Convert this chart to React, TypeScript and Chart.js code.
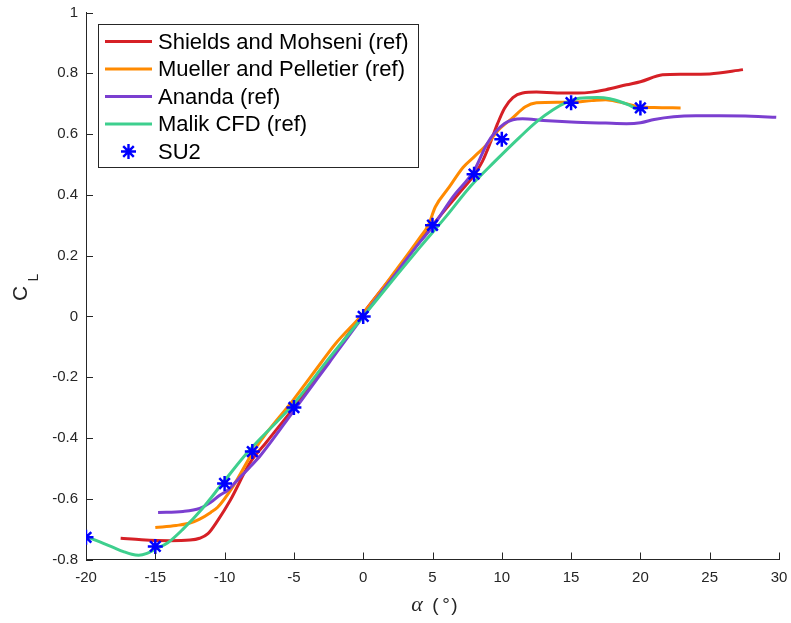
import React, { useEffect, useRef } from "react";
import { Chart, registerables } from "chart.js";

Chart.register(...registerables);

// ---- tick labels ----
const xTickValues = [-20, -15, -10, -5, 0, 5, 10, 15, 20, 25, 30];
const yTickValues = [-0.8, -0.6, -0.4, -0.2, 0, 0.2, 0.4, 0.6, 0.8, 1];

// ---- series names / colours ----
const seriesNames = [
  "Shields and Mohseni (ref)",
  "Mueller and Pelletier (ref)",
  "Ananda (ref)",
  "Malik CFD (ref)",
  "SU2",
];
const seriesColors = ["#d62026", "#ff8a00", "#7b3fd0", "#3ecf8e", "#0000ff"];

// ---- Shields and Mohseni ----
const shieldsAlpha = [-17.5, -16, -14, -12.5, -11.8, -11.2, -10.5, -9.6, -8.2, -7, -5, -2.5, 0, 2.5, 5, 7, 8, 8.6, 9.2, 9.7, 10.2, 10.8, 11.5, 12.5, 14, 15.5, 16.5, 17.5, 19, 20, 21.6, 23, 25, 27.4];
const shieldsCL = [-0.73, -0.735, -0.738, -0.736, -0.73, -0.715, -0.672, -0.606, -0.484, -0.415, -0.3, -0.15, 0.01, 0.155, 0.3, 0.41, 0.465, 0.51, 0.575, 0.635, 0.685, 0.72, 0.735, 0.738, 0.735, 0.735, 0.738, 0.746, 0.762, 0.772, 0.795, 0.797, 0.798, 0.812];

// ---- Mueller and Pelletier ----
const muellerAlpha = [-15, -13.5, -12.5, -11.8, -11, -10.5, -9.4, -8, -7, -5, -3, -2, 0, 2.5, 4.1, 4.7, 5.2, 6.2, 7.2, 8, 8.9, 9.8, 10.8, 11.7, 12.5, 14, 15, 16.5, 17.5, 18.5, 20, 21, 22.9];
const muellerCL = [-0.695, -0.688, -0.68, -0.667, -0.645, -0.628, -0.56, -0.45, -0.385, -0.272, -0.15, -0.09, 0.01, 0.16, 0.26, 0.3, 0.36, 0.425, 0.49, 0.525, 0.565, 0.615, 0.654, 0.69, 0.703, 0.705, 0.705, 0.71, 0.713, 0.705, 0.69, 0.687, 0.686];

// ---- Ananda ----
const anandaAlpha = [-14.8, -13, -11.8, -11, -10.4, -9.8, -9, -8.2, -7.4, -5, -2.5, 0, 2.5, 4.1, 5, 6.5, 8, 8.9, 9.5, 10.2, 10.8, 11.5, 13, 15, 17.5, 19, 20, 21, 22.4, 24, 25.7, 28, 29.8];
const anandaCL = [-0.645, -0.642, -0.632, -0.612, -0.59, -0.573, -0.535, -0.497, -0.457, -0.31, -0.155, 0.0, 0.15, 0.245, 0.295, 0.395, 0.48, 0.565, 0.605, 0.635, 0.647, 0.65, 0.645, 0.64, 0.636, 0.634, 0.637, 0.648, 0.657, 0.66, 0.66, 0.659, 0.655];

// ---- Malik CFD ----
const malikAlpha = [-20, -19, -18, -17.3, -16.7, -16.2, -15.6, -15, -14.1, -13, -11.6, -10.1, -8.2, -5, -2.5, 0, 2.5, 4.1, 6, 7.7, 9.5, 11.3, 12.5, 13.7, 14.7, 15.6, 16.9, 17.8, 18.5, 19.2, 19.8];
const malikCL = [-0.725, -0.742, -0.761, -0.774, -0.783, -0.786, -0.78, -0.766, -0.745, -0.7, -0.632, -0.546, -0.44, -0.287, -0.14, 0.0, 0.14, 0.228, 0.33, 0.426, 0.51, 0.59, 0.64, 0.68, 0.705, 0.718, 0.72, 0.716, 0.707, 0.695, 0.68];

// ---- SU2 ----
const su2Alpha = [-20, -15, -10, -8, -5, 0, 5, 8, 10, 15, 20];
const su2CL = [-0.727, -0.757, -0.55, -0.445, -0.3, 0, 0.3, 0.468, 0.583, 0.703, 0.686];

const toPoints = (xs: number[], ys: number[]) => xs.map((x, i) => ({ x, y: ys[i] }));

const FONT = "'Liberation Sans', Arial, Helvetica, sans-serif";
const AXIS_COLOR = "#262626";

const decorPlugin = {
  id: "decor",
  afterDraw(chart: any) {
    const { ctx, chartArea, scales } = chart;
    const xs = scales.x;
    const ys = scales.y;
    ctx.save();

    // inward tick marks
    ctx.strokeStyle = AXIS_COLOR;
    ctx.lineWidth = 1;
    ctx.beginPath();
    for (const v of xTickValues) {
      const px = Math.round(xs.getPixelForValue(v)) + 0.5;
      ctx.moveTo(px, chartArea.bottom);
      ctx.lineTo(px, chartArea.bottom - 7);
    }
    for (const v of yTickValues) {
      const py = Math.round(ys.getPixelForValue(v)) + 0.5;
      ctx.moveTo(chartArea.left, py);
      ctx.lineTo(chartArea.left + 7, py);
    }
    ctx.stroke();

    // legend box
    const bx = 98.5, by = 24.5, bw = 320, bh = 143;
    ctx.fillStyle = "#ffffff";
    ctx.fillRect(bx, by, bw, bh);
    ctx.strokeStyle = AXIS_COLOR;
    ctx.lineWidth = 1;
    ctx.strokeRect(bx, by, bw, bh);

    const rowY0 = 41.5;
    const rowStep = 27.5;
    chart.data.datasets.forEach((ds: any, i: number) => {
      const y = rowY0 + i * rowStep;
      if (ds.showLine === false) {
        const cx = 128.5, r = 7.5;
        const d = Math.cos(Math.PI / 4) * r;
        ctx.strokeStyle = ds.pointBorderColor;
        ctx.lineWidth = 2.4;
        ctx.beginPath();
        ctx.moveTo(cx - r, y); ctx.lineTo(cx + r, y);
        ctx.moveTo(cx, y - r); ctx.lineTo(cx, y + r);
        ctx.moveTo(cx - d, y - d); ctx.lineTo(cx + d, y + d);
        ctx.moveTo(cx - d, y + d); ctx.lineTo(cx + d, y - d);
        ctx.stroke();
      } else {
        ctx.strokeStyle = ds.borderColor;
        ctx.lineWidth = 3;
        ctx.beginPath();
        ctx.moveTo(105, y);
        ctx.lineTo(152, y);
        ctx.stroke();
      }
      ctx.fillStyle = "#000000";
      ctx.font = `22px ${FONT}`;
      ctx.textBaseline = "middle";
      ctx.textAlign = "left";
      ctx.fillText(ds.label, 158, y + 1);
    });

    // x axis title: alpha (°)
    ctx.fillStyle = AXIS_COLOR;
    ctx.textBaseline = "middle";
    ctx.textAlign = "center";
    ctx.font = "italic 22px 'Liberation Serif', 'DejaVu Serif', serif";
    ctx.fillText("α", 417, 605);
    ctx.font = `19px ${FONT}`;
    ctx.fillText("(", 435.5, 606);
    ctx.fillText("°", 446, 606);
    ctx.fillText(")", 454.5, 606);

    // y axis title: C_L (rotated)
    ctx.save();
    ctx.translate(21, 293.5);
    ctx.rotate(-Math.PI / 2);
    ctx.font = `21px ${FONT}`;
    ctx.fillText("C", 0, 0);
    ctx.restore();
    ctx.save();
    ctx.translate(34, 277.5);
    ctx.rotate(-Math.PI / 2);
    ctx.font = `14px ${FONT}`;
    ctx.fillText("L", 0, 0);
    ctx.restore();

    ctx.restore();
  },
};

export default function App() {
  const canvasRef = useRef<HTMLCanvasElement | null>(null);

  useEffect(() => {
    if (!canvasRef.current) return;
    const lineDs = (i: number, xs: number[], ys: number[], order: number) => ({
      label: seriesNames[i],
      data: toPoints(xs, ys),
      showLine: true,
      borderColor: seriesColors[i],
      backgroundColor: seriesColors[i],
      borderWidth: 3,
      pointRadius: 0,
      pointHoverRadius: 0,
      cubicInterpolationMode: "monotone",
      fill: false,
      order,
    });

    const chart = new Chart(canvasRef.current, {
      type: "scatter",
      data: {
        datasets: [
          lineDs(0, shieldsAlpha, shieldsCL, 5),
          lineDs(1, muellerAlpha, muellerCL, 4),
          lineDs(2, anandaAlpha, anandaCL, 3),
          lineDs(3, malikAlpha, malikCL, 2),
          {
            label: seriesNames[4],
            data: toPoints(su2Alpha, su2CL),
            showLine: false,
            pointStyle: "star",
            pointRadius: 7.5,
            pointBorderWidth: 2.5,
            pointBorderColor: seriesColors[4],
            pointBackgroundColor: seriesColors[4],
            order: 1,
          } as any,
        ],
      },
      options: {
        animation: false,
        responsive: false,
        maintainAspectRatio: false,
        events: [],
        layout: { padding: { top: 12.5, right: 12, left: 0, bottom: 0 } },
        plugins: {
          legend: { display: false },
          tooltip: { enabled: false },
          title: { display: false },
        },
        scales: {
          x: {
            type: "linear",
            min: -20,
            max: 30,
            afterBuildTicks: (s: any) => {
              s.ticks = xTickValues.map((v) => ({ value: v }));
            },
            ticks: {
              color: AXIS_COLOR,
              font: { family: FONT, size: 15 },
              padding: 9,
              maxRotation: 0,
              autoSkip: false,
              callback: (v: any) => String(v),
            },
            grid: { display: false, drawTicks: false, tickLength: 0 },
            border: { display: true, color: AXIS_COLOR, width: 1 },
            afterFit: (s: any) => {
              s.height = 63.5;
              s.paddingLeft = 0;
              s.paddingRight = 0;
              s.paddingTop = 0;
              s.paddingBottom = 0;
            },
          },
          y: {
            type: "linear",
            min: -0.8,
            max: 1,
            afterBuildTicks: (s: any) => {
              s.ticks = yTickValues.map((v) => ({ value: v }));
            },
            ticks: {
              color: AXIS_COLOR,
              font: { family: FONT, size: 15 },
              padding: 8,
              autoSkip: false,
              callback: (v: any) => String(Math.round(Number(v) * 10) / 10),
            },
            grid: { display: false, drawTicks: false, tickLength: 0 },
            border: { display: true, color: AXIS_COLOR, width: 1 },
            afterFit: (s: any) => {
              s.width = 86;
              s.paddingLeft = 0;
              s.paddingRight = 0;
              s.paddingTop = 0;
              s.paddingBottom = 0;
            },
          },
        },
      } as any,
      plugins: [decorPlugin],
    });
    return () => chart.destroy();
  }, []);

  return (
    <div style={{ position: "fixed", left: 0, top: 0, width: 791, height: 623, background: "#fff" }}>
      <canvas ref={canvasRef} width={791} height={623} style={{ display: "block" }} />
    </div>
  );
}
